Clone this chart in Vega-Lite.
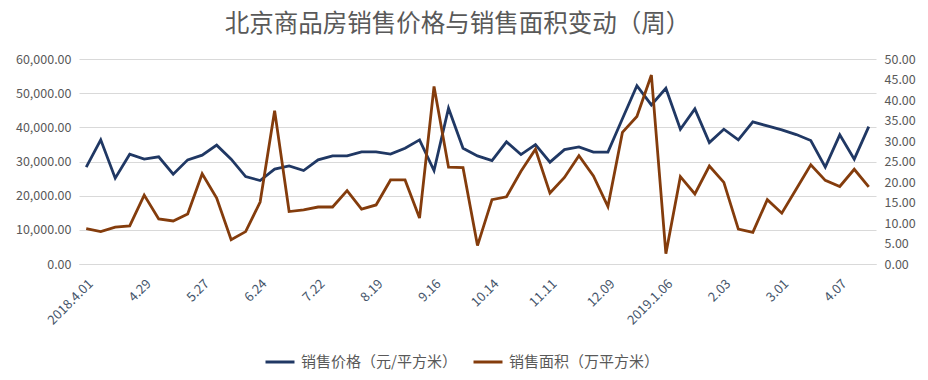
{
  "$schema": "https://vega.github.io/schema/vega-lite/v6.json",
  "width": 797,
  "height": 205,
  "autosize": "none",
  "padding": {"left": 79, "top": 59, "right": 52, "bottom": 116},
  "config": {
    "font": "Noto Sans CJK SC",
    "view": {"stroke": null}
  },
  "title": {
    "text": "北京商品房销售价格与销售面积变动（周）",
    "fontSize": 24.5,
    "font": "Noto Sans CJK SC",
    "fontWeight": "normal",
    "color": "#595959",
    "anchor": "middle",
    "dx": -20,
    "offset": 16
  },
  "data": {
    "values": [
      {"idx": 0, "date": "2018.4.01", "price": 28350, "area": 8.6},
      {"idx": 1, "date": "4.08", "price": 36330, "area": 7.9},
      {"idx": 2, "date": "4.15", "price": 25130, "area": 9.0},
      {"idx": 3, "date": "4.22", "price": 32150, "area": 9.3},
      {"idx": 4, "date": "4.29", "price": 30690, "area": 16.8},
      {"idx": 5, "date": "5.06", "price": 31360, "area": 11.0},
      {"idx": 6, "date": "5.13", "price": 26300, "area": 10.5},
      {"idx": 7, "date": "5.20", "price": 30480, "area": 12.2},
      {"idx": 8, "date": "5.27", "price": 31860, "area": 22.0},
      {"idx": 9, "date": "6.03", "price": 34780, "area": 16.1},
      {"idx": 10, "date": "6.10", "price": 30690, "area": 5.9},
      {"idx": 11, "date": "6.17", "price": 25600, "area": 7.9},
      {"idx": 12, "date": "6.24", "price": 24430, "area": 15.1},
      {"idx": 13, "date": "7.01", "price": 27760, "area": 37.4},
      {"idx": 14, "date": "7.08", "price": 28730, "area": 12.8},
      {"idx": 15, "date": "7.15", "price": 27350, "area": 13.2},
      {"idx": 16, "date": "7.22", "price": 30480, "area": 13.9},
      {"idx": 17, "date": "7.29", "price": 31650, "area": 13.9},
      {"idx": 18, "date": "8.05", "price": 31650, "area": 17.9},
      {"idx": 19, "date": "8.12", "price": 32820, "area": 13.4},
      {"idx": 20, "date": "8.19", "price": 32820, "area": 14.4},
      {"idx": 21, "date": "8.26", "price": 32150, "area": 20.5},
      {"idx": 22, "date": "9.02", "price": 33900, "area": 20.5},
      {"idx": 23, "date": "9.09", "price": 36330, "area": 11.2},
      {"idx": 24, "date": "9.16", "price": 27350, "area": 43.3},
      {"idx": 25, "date": "9.23", "price": 45590, "area": 23.6},
      {"idx": 26, "date": "9.30", "price": 33900, "area": 23.5},
      {"idx": 27, "date": "10.07", "price": 31650, "area": 4.5},
      {"idx": 28, "date": "10.14", "price": 30280, "area": 15.7},
      {"idx": 29, "date": "10.21", "price": 35740, "area": 16.4},
      {"idx": 30, "date": "10.28", "price": 32030, "area": 22.6},
      {"idx": 31, "date": "11.04", "price": 34950, "area": 28.0},
      {"idx": 32, "date": "11.11", "price": 29810, "area": 17.3},
      {"idx": 33, "date": "11.18", "price": 33490, "area": 21.1},
      {"idx": 34, "date": "11.25", "price": 34280, "area": 26.4},
      {"idx": 35, "date": "12.02", "price": 32730, "area": 21.5},
      {"idx": 36, "date": "12.09", "price": 32730, "area": 14.0},
      {"idx": 37, "date": "12.16", "price": 42500, "area": 32.1},
      {"idx": 38, "date": "12.23", "price": 52200, "area": 36.0},
      {"idx": 39, "date": "12.30", "price": 46560, "area": 46.1},
      {"idx": 40, "date": "2019.1.06", "price": 51440, "area": 2.5},
      {"idx": 41, "date": "1.13", "price": 39450, "area": 21.3},
      {"idx": 42, "date": "1.20", "price": 45390, "area": 17.1},
      {"idx": 43, "date": "1.27", "price": 35540, "area": 23.9},
      {"idx": 44, "date": "2.03", "price": 39450, "area": 19.9},
      {"idx": 45, "date": "2.10", "price": 36330, "area": 8.5},
      {"idx": 46, "date": "2.17", "price": 41590, "area": 7.7},
      {"idx": 47, "date": "2.24", "price": 40420, "area": 15.7},
      {"idx": 48, "date": "3.01", "price": 39250, "area": 12.4},
      {"idx": 49, "date": "3.10", "price": 37880, "area": 18.3},
      {"idx": 50, "date": "3.17", "price": 36130, "area": 24.2},
      {"idx": 51, "date": "3.24", "price": 28350, "area": 20.4},
      {"idx": 52, "date": "4.07", "price": 37790, "area": 18.9},
      {"idx": 53, "date": "4.14", "price": 30690, "area": 23.1},
      {"idx": 54, "date": "4.21", "price": 40210, "area": 18.8}
    ]
  },
  "encoding": {
    "x": {
      "field": "date",
      "type": "ordinal",
      "sort": {"field": "idx", "op": "min"},
      "scale": {"type": "point", "padding": 0.5},
      "axis": {
        "title": null,
        "values": ["2018.4.01", "4.29", "5.27", "6.24", "7.22", "8.19", "9.16", "10.14", "11.11", "12.09", "2019.1.06", "2.03", "3.01", "4.07"],
        "labelAngle": -45,
        "labelFontSize": 13,
        "labelColor": "#44546A",
        "labelPadding": 13,
        "ticks": false,
        "domain": true,
        "domainColor": "#d9d9d9",
        "grid": false
      }
    }
  },
  "layer": [
    {
      "mark": {"type": "line", "strokeWidth": 2.8},
      "encoding": {
        "y": {
          "field": "price",
          "type": "quantitative",
          "scale": {"domain": [0, 60000]},
          "axis": {
            "orient": "left",
            "title": null,
            "values": [0, 10000, 20000, 30000, 40000, 50000, 60000],
            "format": ",.2f",
            "labelFontSize": 12.5,
            "labelColor": "#595959",
            "labelPadding": 8,
            "ticks": false,
            "domain": false,
            "grid": true,
            "gridColor": "#d9d9d9",
            "gridWidth": 1
          }
        },
        "color": {
          "datum": "销售价格（元/平方米）",
          "type": "nominal",
          "scale": {
            "domain": ["销售价格（元/平方米）", "销售面积（万平方米）"],
            "range": ["#203864", "#843C0C"]
          },
          "legend": {
            "title": null,
            "orient": "none",
            "legendX": 185,
            "legendY": 287,
            "direction": "horizontal",
            "symbolType": "stroke",
            "symbolSize": 841,
            "symbolStrokeWidth": 3,
            "labelFontSize": 15,
            "labelColor": "#595959",
            "labelOffset": 5,
            "columnPadding": 10
          }
        }
      }
    },
    {
      "mark": {"type": "line", "strokeWidth": 2.8},
      "encoding": {
        "y": {
          "field": "area",
          "type": "quantitative",
          "scale": {"domain": [0, 50]},
          "axis": {
            "orient": "right",
            "title": null,
            "values": [0, 5, 10, 15, 20, 25, 30, 35, 40, 45, 50],
            "format": ".2f",
            "labelFontSize": 12.5,
            "labelColor": "#595959",
            "labelPadding": 8,
            "ticks": false,
            "domain": false,
            "grid": false
          }
        },
        "color": {"datum": "销售面积（万平方米）", "type": "nominal"}
      }
    }
  ],
  "resolve": {"scale": {"y": "independent"}}
}
